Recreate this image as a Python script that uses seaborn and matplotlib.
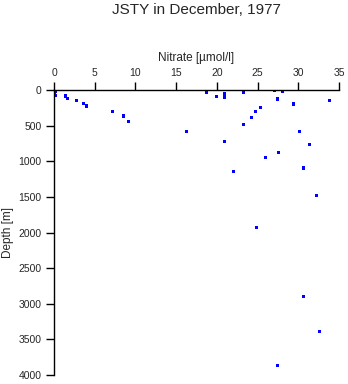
import matplotlib
matplotlib.use("Agg")
import matplotlib.pyplot as plt
import seaborn as sns
import pandas as pd

title = "JSTY in December, 1977"
x_label = "Nitrate [\u00b5mol/l]"
y_label = "Depth [m]"

nitrate = [0.0, 0.1, 0.2, 0.1, 0.1, 0.2, 1.4, 1.7, 2.8, 3.6, 4.0, 7.2, 8.5, 9.1,
           16.3, 18.7, 20.0, 20.9, 20.9, 20.9, 23.3, 23.3, 24.2, 24.7, 25.4, 26.0,
           27.1, 27.5, 28.1, 29.4, 30.1, 31.4, 33.8, 27.6, 22.0, 30.6, 32.2, 24.9,
           30.6, 32.6, 27.4]
depth = [0, 10, 20, 35, 55, 75, 84, 117, 150, 187, 225, 299, 365, 440,
         577, 37, 89, 56, 108, 728, 28, 483, 390, 296, 244, 948,
         0, 127, 19, 197, 577, 765, 151, 878, 1141, 1094, 1479, 1934,
         2892, 3384, 3864]
x_ticks = [0, 5, 10, 15, 20, 25, 30, 35]
y_ticks = [0, 500, 1000, 1500, 2000, 2500, 3000, 3500, 4000]

df = pd.DataFrame({"nitrate": nitrate, "depth": depth})

sns.set_style("white")
plt.rcParams["font.family"] = ["Liberation Sans", "DejaVu Sans"]

fig = plt.figure(figsize=(3.48, 3.84), dpi=100)
ax = fig.add_axes([54/348, 1-375/384, 285/348, 285/384])
sns.scatterplot(data=df, x="nitrate", y="depth", ax=ax, color="blue",
                marker="s", s=5, linewidth=0, edgecolor="none")

ax.set_xlim(0, 35)
ax.set_ylim(4000, 0)
ax.set_xticks(x_ticks)
ax.set_yticks(y_ticks)
ax.xaxis.tick_top()
ax.xaxis.set_label_position("top")
ax.set_xlabel(x_label, fontsize=8.5)
ax.set_ylabel(y_label, fontsize=8.5)
ax.xaxis.set_label_coords(0.5, 1.1)
ax.yaxis.set_label_coords(-0.14, 0.5)
ax.tick_params(axis="both", labelsize=7.5, length=5.5, width=1, color="black",
               direction="out", pad=3.5)
ax.tick_params(axis="x", top=True, bottom=False)
ax.tick_params(axis="y", left=True, right=False)
for side in ["right", "bottom"]:
    ax.spines[side].set_visible(False)
for side in ["left", "top"]:
    ax.spines[side].set_color("black")
    ax.spines[side].set_linewidth(1)
ax.set_facecolor("white")
fig.text(196/348, 1-10/384, title, ha="center", va="center", fontsize=11)

fig.savefig("out.png", dpi=100, facecolor="white")
